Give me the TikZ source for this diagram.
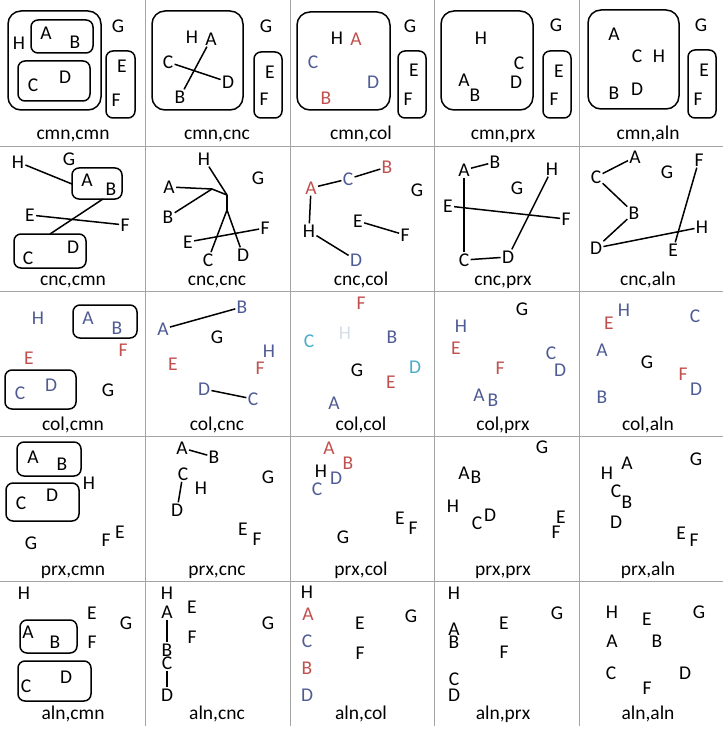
\documentclass[tikz,border=0pt]{standalone}
\usepackage{fontspec}
\setmainfont{Carlito}
\usetikzlibrary{fit}
\definecolor{cred}{RGB}{192,80,77}
\definecolor{cblue}{RGB}{79,91,148}
\definecolor{ccyan}{RGB}{75,172,198}
\definecolor{clight}{RGB}{214,221,234}
\definecolor{cgrid}{RGB}{165,165,165}
\newcommand{\ltr}[4][black]{\node[ltr,text=#1] (#2) at (#3) {#4};}
\begin{document}
\begin{tikzpicture}[x=1pt,y=-1pt,
 ltr/.style={inner sep=1.2pt,font=\fontsize{19.5}{22}\selectfont},
 celllab/.style={inner sep=0pt,anchor=base,font=\fontsize{19.5}{22}\selectfont},
 gridline/.style={draw=cgrid,line width=0.9pt},
 bigbox/.style={draw,line width=1.5pt,rounded corners=13pt,inner sep=0pt},
 smallbox/.style={draw,line width=1.5pt,rounded corners=7pt,inner sep=0pt},
 con/.style={line width=1.5pt}]
\useasboundingbox[fill=white] (0,0) rectangle (723,730);
% grid
\foreach \gx in {145,290,434,579} {\draw[gridline] (\gx,0) -- (\gx,726);}
\foreach \gy in {146,291,436,581} {\draw[gridline] (0,\gy) -- (723,\gy);}

% ===== Row 1 =====
% cmn,cmn
\node[bigbox,fit={(8,11)(101,110)}] (b11o) {};
\node[smallbox,fit={(31,20)(93,53)}] (b11ab) {};
\node[smallbox,fit={(18,61)(90,101)}] (b11cd) {};
\node[smallbox,fit={(106,51)(135,118)}] (b11ef) {};
\ltr{p11H}{19,43}{H} \ltr{p11A}{46,33}{A} \ltr{p11B}{75,42}{B}
\ltr{p11C}{33,85}{C} \ltr{p11D}{65,77}{D} \ltr{p11G}{118,26}{G}
\ltr{p11E}{122,66}{E} \ltr{p11F}{116,100}{F}
\node[celllab] (l11) at (73,140) {cmn,cmn};
% cmn,cnc
\node[bigbox,fit={(152,11)(243,110)}] (b12o) {};
\node[smallbox,fit={(254,52)(282,118)}] (b12ef) {};
\ltr{p12H}{192,37}{H} \ltr{p12A}{211,39}{A} \ltr{p12C}{168,62}{C}
\ltr{p12D}{228,82}{D} \ltr{p12B}{180,97}{B} \ltr{p12G}{266,26}{G}
\ltr{p12E}{270,72}{E} \ltr{p12F}{264,99}{F}
\draw[con] (p12C) -- (p12D);
\draw[con] (p12A) -- (p12B);
\node[celllab] (l12) at (217,140) {cmn,cnc};
% cmn,col
\node[bigbox,fit={(297,12)(390,110)}] (b13o) {};
\node[smallbox,fit={(398,51)(426,118)}] (b13ef) {};
\ltr{p13H}{337,38}{H} \ltr[cred]{p13A}{356,39}{A} \ltr[cblue]{p13C}{313,62}{C}
\ltr[cblue]{p13D}{373,82}{D} \ltr[cred]{p13B}{326,98}{B} \ltr{p13G}{410,26}{G}
\ltr{p13E}{414,70}{E} \ltr{p13F}{408,99}{F}
\node[celllab] (l13) at (361,140) {cmn,col};
% cmn,prx
\node[bigbox,fit={(441,11)(533,110)}] (b14o) {};
\node[smallbox,fit={(543,51)(571,118)}] (b14ef) {};
\ltr{p14H}{481,38}{H} \ltr{p14C}{519,63}{C} \ltr{p14D}{516,82}{D}
\ltr{p14A}{464,80}{A} \ltr{p14B}{475,95}{B} \ltr{p14G}{556,25}{G}
\ltr{p14E}{559,71}{E} \ltr{p14F}{554,99}{F}
\node[celllab] (l14) at (503,140) {cmn,prx};
% cmn,aln
\node[bigbox,fit={(588,10)(679,109)}] (b15o) {};
\node[smallbox,fit={(688,50)(716,118)}] (b15ef) {};
\ltr{p15A}{614,34}{A} \ltr{p15C}{637,56}{C} \ltr{p15H}{659,56}{H}
\ltr{p15B}{614,93}{B} \ltr{p15D}{637,89}{D} \ltr{p15G}{701,25}{G}
\ltr{p15E}{704,70}{E} \ltr{p15F}{698,99}{F}
\node[celllab] (l15) at (648,140) {cmn,aln};

% ===== Row 2 =====
% cnc,cmn
\node[smallbox,fit={(72,168)(122,199)}] (b21ab) {};
\node[smallbox,fit={(14,234)(86,268)}] (b21cd) {};
\ltr{p21H}{18,162}{H} \ltr{p21G}{69,159}{G} \ltr{p21A}{87,180}{A}
\ltr{p21B}{111,189}{B} \ltr{p21E}{30,215}{E} \ltr{p21F}{125,225}{F}
\ltr{p21C}{28,258}{C} \ltr{p21D}{73,247}{D}
\coordinate (q21h) at (72,184);
\coordinate (q21ab) at (103,199);
\coordinate (q21cd) at (50,234);
\draw[con] (p21H) -- (q21h);
\draw[con] (q21ab) -- (q21cd);
\draw[con] (p21E) -- (p21F);
\node[celllab] (l21) at (73,285) {cnc,cmn};
% cnc,cnc
\ltr{p22H}{204,159}{H} \ltr{p22A}{169,187}{A} \ltr{p22B}{168,217}{B}
\ltr{p22G}{258,178}{G} \ltr{p22E}{188,242}{E} \ltr{p22F}{265,228}{F}
\ltr{p22C}{208,260}{C} \ltr{p22D}{243,255}{D}
\coordinate (j22a) at (212,189);
\coordinate (j22b) at (227,195);
\coordinate (j22c) at (227,210);
\draw[con] (p22A) -- (j22a);
\draw[con] (p22B) -- (j22a);
\draw[con] (j22a) -- (j22b);
\draw[con] (p22H) -- (j22b);
\draw[con] (j22b) -- (j22c);
\draw[con] (j22c) -- (p22C);
\draw[con] (j22c) -- (p22D);
\draw[con] (p22E) -- (p22F);
\node[celllab] (l22) at (217,285) {cnc,cnc};
% cnc,col
\ltr[cred]{p23A}{311,188}{A} \ltr[cblue]{p23C}{348,179}{C} \ltr[cred]{p23B}{387,167}{B}
\ltr{p23G}{417,190}{G} \ltr{p23E}{358,221}{E} \ltr{p23F}{405,235}{F}
\ltr{p23H}{309,231}{H} \ltr[cblue]{p23D}{356,260}{D}
\draw[con] (p23A) -- (p23C);
\draw[con] (p23C) -- (p23B);
\draw[con] (p23A) -- (p23H);
\draw[con] (p23H) -- (p23D);
\draw[con] (p23E) -- (p23F);
\node[celllab] (l23) at (361,285) {cnc,col};
% cnc,prx
\ltr{p24A}{464,170}{A} \ltr{p24B}{495,162}{B} \ltr{p24G}{517,188}{G}
\ltr{p24H}{552,169}{H} \ltr{p24E}{448,206}{E} \ltr{p24F}{566,219}{F}
\ltr{p24C}{464,260}{C} \ltr{p24D}{508,257}{D}
\draw[con] (p24A) -- (p24B);
\draw[con] (p24A) -- (p24C);
\draw[con] (p24E) -- (p24F);
\draw[con] (p24H) -- (p24D);
\draw[con] (p24C) -- (p24D);
\node[celllab] (l24) at (503,285) {cnc,prx};
% cnc,aln
\ltr{p25A}{635,157}{A} \ltr{p25C}{596,177}{C} \ltr{p25G}{667,172}{G}
\ltr{p25F}{699,160}{F} \ltr{p25B}{634,213}{B} \ltr{p25H}{702,227}{H}
\ltr{p25D}{596,248}{D} \ltr{p25E}{673,250}{E}
\draw[con] (p25C) -- (p25A);
\draw[con] (p25C) -- (p25B);
\draw[con] (p25B) -- (p25D);
\draw[con] (p25D) -- (p25H);
\draw[con] (p25F) -- (p25E);
\node[celllab] (l25) at (648,285) {cnc,aln};

% ===== Row 3 =====
% col,cmn
\node[smallbox,fit={(73,305)(137,338)}] (b31ab) {};
\node[smallbox,fit={(5,370)(76,409)}] (b31cd) {};
\ltr[cblue]{p31H}{38,318}{H} \ltr[cblue]{p31A}{88,318}{A} \ltr[cblue]{p31B}{117,328}{B}
\ltr[cred]{p31F}{123,350}{F} \ltr[cred]{p31E}{29,358}{E}
\ltr[cblue]{p31C}{20,393}{C} \ltr[cblue]{p31D}{51,385}{D} \ltr{p31G}{108,390}{G}
\node[celllab] (l31) at (73,430) {col,cmn};
% col,cnc
\ltr[cblue]{p32B}{242,307}{B} \ltr[cblue]{p32A}{163,329}{A} \ltr{p32G}{217,337}{G}
\ltr[cblue]{p32H}{269,351}{H} \ltr[cred]{p32E}{173,364}{E} \ltr[cred]{p32F}{260,368}{F}
\ltr[cblue]{p32D}{204,389}{D} \ltr[cblue]{p32C}{253,399}{C}
\draw[con] (p32A) -- (p32B);
\draw[con] (p32D) -- (p32C);
\node[celllab] (l32) at (217,430) {col,cnc};
% col,col
\ltr[cred]{p33F}{361,303}{F} \ltr[ccyan]{p33C}{309,341}{C} \ltr[clight]{p33H}{345,333}{H}
\ltr[cblue]{p33B}{392,337}{B} \ltr{p33G}{357,370}{G} \ltr[ccyan]{p33D}{415,367}{D}
\ltr[cred]{p33E}{391,382}{E} \ltr[cblue]{p33A}{334,403}{A}
\node[celllab] (l33) at (361,430) {col,col};
% col,prx
\ltr{p34G}{522,309}{G} \ltr[cblue]{p34H}{461,326}{H} \ltr[cred]{p34E}{456,348}{E}
\ltr[cred]{p34F}{500,368}{F} \ltr[cblue]{p34C}{551,353}{C} \ltr[cblue]{p34D}{560,370}{D}
\ltr[cblue]{p34A}{479,395}{A} \ltr[cblue]{p34B}{493,400}{B}
\node[celllab] (l34) at (503,430) {col,prx};
% col,aln
\ltr[cblue]{p35H}{624,310}{H} \ltr[cred]{p35E}{609,323}{E} \ltr[cblue]{p35C}{695,316}{C}
\ltr[cblue]{p35A}{602,350}{A} \ltr{p35G}{647,362}{G} \ltr[cred]{p35F}{683,374}{F}
\ltr[cblue]{p35D}{696,389}{D} \ltr[cblue]{p35B}{602,397}{B}
\node[celllab] (l35) at (648,430) {col,aln};

% ===== Row 4 =====
% prx,cmn
\node[smallbox,fit={(17,442)(81,476)}] (b41ab) {};
\node[smallbox,fit={(6,483)(79,521)}] (b41cd) {};
\ltr{p41A}{33,457}{A} \ltr{p41B}{62,464}{B} \ltr{p41C}{21,503}{C}
\ltr{p41D}{52,495}{D} \ltr{p41H}{89,483}{H} \ltr{p41G}{31,543}{G}
\ltr{p41F}{106,540}{F} \ltr{p41E}{120,532}{E}
\node[celllab] (l41) at (73,575) {prx,cmn};
% prx,cnc
\ltr{p42A}{182,448}{A} \ltr{p42B}{214,457}{B} \ltr{p42C}{183,474}{C}
\ltr{p42H}{201,488}{H} \ltr{p42D}{177,510}{D} \ltr{p42G}{268,477}{G}
\ltr{p42E}{243,529}{E} \ltr{p42F}{257,539}{F}
\draw[con] (p42A) -- (p42B);
\draw[con] (p42C) -- (p42D);
\node[celllab] (l42) at (217,575) {prx,cnc};
% prx,col
\ltr[cred]{p43A}{329,448}{A} \ltr[cred]{p43B}{348,463}{B} \ltr{p43H}{321,471}{H}
\ltr[cblue]{p43D}{336,478}{D} \ltr[cblue]{p43C}{317,489}{C} \ltr{p43E}{400,518}{E}
\ltr{p43F}{413,528}{F} \ltr{p43G}{343,537}{G}
\node[celllab] (l43) at (361,575) {prx,col};
% prx,prx
\ltr{p44G}{542,447}{G} \ltr{p44A}{464,473}{A} \ltr{p44B}{476,477}{B}
\ltr{p44H}{453,506}{H} \ltr{p44C}{477,523}{C} \ltr{p44D}{490,515}{D}
\ltr{p44E}{561,517}{E} \ltr{p44F}{556,532}{F}
\node[celllab] (l44) at (503,575) {prx,prx};
% prx,aln
\ltr{p45A}{627,463}{A} \ltr{p45G}{696,459}{G} \ltr{p45H}{607,473}{H}
\ltr{p45C}{616,491}{C} \ltr{p45B}{627,502}{B} \ltr{p45D}{616,522}{D}
\ltr{p45E}{681,533}{E} \ltr{p45F}{694,540}{F}
\node[celllab] (l45) at (648,575) {prx,aln};

% ===== Row 5 =====
% aln,cmn
\node[smallbox,fit={(20,620)(77,653)}] (b51ab) {};
\node[smallbox,fit={(18,661)(91,701)}] (b51cd) {};
\ltr{p51H}{24,593}{H} \ltr{p51E}{92,613}{E} \ltr{p51G}{126,623}{G}
\ltr{p51A}{28,632}{A} \ltr{p51B}{55,642}{B} \ltr{p51F}{92,642}{F}
\ltr{p51C}{26,686}{C} \ltr{p51D}{66,677}{D}
\node[celllab] (l51) at (73,719) {aln,cmn};
% aln,cnc
\ltr{p52H}{167,593}{H} \ltr{p52A}{167,612}{A} \ltr{p52E}{192,607}{E}
\ltr{p52G}{268,623}{G} \ltr{p52F}{192,637}{F} \ltr{p52B}{167,650}{B}
\ltr{p52C}{167,663}{C} \ltr{p52D}{167,695}{D}
\draw[con] (p52A) -- (p52B);
\draw[con] (p52C) -- (p52D);
\node[celllab] (l52) at (217,719) {aln,cnc};
% aln,col
\ltr{p53H}{307,592}{H} \ltr[cred]{p53A}{308,614}{A} \ltr{p53G}{411,616}{G}
\ltr{p53E}{360,623}{E} \ltr[cblue]{p53C}{307,641}{C} \ltr{p53F}{360,653}{F}
\ltr[cred]{p53B}{307,668}{B} \ltr[cblue]{p53D}{307,695}{D}
\node[celllab] (l53) at (361,719) {aln,col};
% aln,prx
\ltr{p54H}{454,593}{H} \ltr{p54G}{557,613}{G} \ltr{p54A}{454,629}{A}
\ltr{p54B}{454,642}{B} \ltr{p54E}{504,623}{E} \ltr{p54F}{504,652}{F}
\ltr{p54C}{454,679}{C} \ltr{p54D}{454,695}{D}
\node[celllab] (l54) at (503,719) {aln,prx};
% aln,aln
\ltr{p55H}{612,612}{H} \ltr{p55E}{647,619}{E} \ltr{p55G}{699,612}{G}
\ltr{p55A}{612,641}{A} \ltr{p55B}{657,641}{B} \ltr{p55C}{611,673}{C}
\ltr{p55D}{685,673}{D} \ltr{p55F}{647,688}{F}
\node[celllab] (l55) at (648,719) {aln,aln};
\end{tikzpicture}
\end{document}
